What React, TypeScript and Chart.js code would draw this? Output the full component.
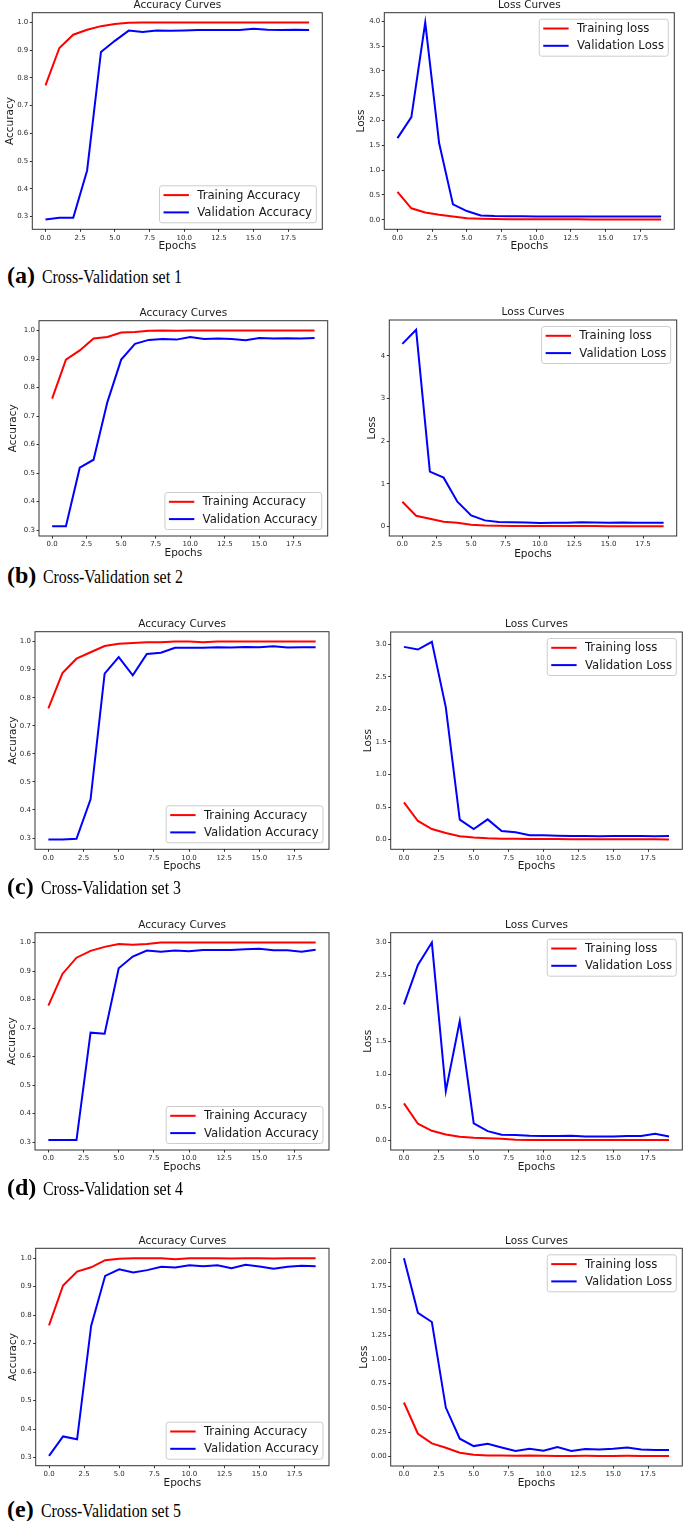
import React, { useEffect, useRef } from "react";
import { Chart, registerables } from "chart.js";

Chart.register(...registerables);

// ---------------- data ----------------
const epochs = [0, 1, 2, 3, 4, 5, 6, 7, 8, 9, 10, 11, 12, 13, 14, 15, 16, 17, 18, 19];
const xTicks = [0, 2.5, 5, 7.5, 10, 12.5, 15, 17.5];
const accTicks = [0.3, 0.4, 0.5, 0.6, 0.7, 0.8, 0.9, 1.0];
const lossTicks1 = [0, 0.5, 1, 1.5, 2, 2.5, 3, 3.5, 4];
const lossTicks2 = [0, 1, 2, 3, 4];
const lossTicks3 = [0, 0.5, 1, 1.5, 2, 2.5, 3];
const lossTicks4 = [0, 0.5, 1, 1.5, 2, 2.5, 3];
const lossTicks5 = [0, 0.25, 0.5, 0.75, 1, 1.25, 1.5, 1.75, 2];

const trainAcc1 = [0.773, 0.908, 0.956, 0.974, 0.987, 0.995, 0.999, 1.0, 1.0, 1.0, 1.0, 1.0, 1.0, 1.0, 1.0, 1.0, 1.0, 1.0, 1.0, 1.0];
const valAcc1 = [0.289, 0.295, 0.295, 0.466, 0.894, 0.934, 0.971, 0.966, 0.971, 0.97, 0.971, 0.973, 0.973, 0.973, 0.973, 0.978, 0.974, 0.973, 0.974, 0.973];
const trainLoss1 = [0.56, 0.23, 0.145, 0.1, 0.065, 0.03, 0.018, 0.012, 0.01, 0.009, 0.008, 0.008, 0.007, 0.007, 0.006, 0.006, 0.006, 0.005, 0.005, 0.005];
const valLoss1 = [1.644, 2.067, 3.973, 1.544, 0.309, 0.174, 0.087, 0.074, 0.07, 0.068, 0.067, 0.066, 0.067, 0.066, 0.066, 0.067, 0.066, 0.066, 0.067, 0.066];

const trainAcc2 = [0.761, 0.898, 0.93, 0.972, 0.977, 0.993, 0.995, 0.999, 1.0, 0.999, 1.0, 1.0, 1.0, 1.0, 1.0, 1.0, 1.0, 1.0, 1.0, 1.0];
const valAcc2 = [0.314, 0.314, 0.519, 0.547, 0.749, 0.898, 0.953, 0.967, 0.97, 0.968, 0.977, 0.97, 0.972, 0.97, 0.966, 0.974, 0.972, 0.973, 0.972, 0.974];
const trainLoss2 = [0.579, 0.25, 0.18, 0.11, 0.086, 0.039, 0.023, 0.016, 0.012, 0.01, 0.009, 0.008, 0.008, 0.007, 0.007, 0.006, 0.006, 0.005, 0.005, 0.005];
const valLoss2 = [4.28, 4.61, 1.284, 1.143, 0.579, 0.258, 0.141, 0.102, 0.1, 0.094, 0.078, 0.086, 0.086, 0.1, 0.094, 0.086, 0.094, 0.086, 0.086, 0.086];

const trainAcc3 = [0.762, 0.888, 0.939, 0.962, 0.984, 0.992, 0.995, 0.998, 0.998, 1.0, 1.0, 0.998, 1.0, 1.0, 1.0, 1.0, 1.0, 1.0, 1.0, 1.0];
const valAcc3 = [0.295, 0.295, 0.297, 0.438, 0.886, 0.945, 0.88, 0.956, 0.96, 0.978, 0.978, 0.978, 0.98, 0.979, 0.981, 0.98, 0.983, 0.979, 0.98, 0.98];
const trainLoss3 = [0.571, 0.286, 0.163, 0.102, 0.051, 0.031, 0.02, 0.015, 0.015, 0.01, 0.009, 0.008, 0.007, 0.006, 0.006, 0.005, 0.005, 0.004, 0.004, 0.003];
const valLoss3 = [2.959, 2.918, 3.036, 2.03, 0.306, 0.163, 0.311, 0.133, 0.112, 0.066, 0.066, 0.061, 0.056, 0.056, 0.051, 0.056, 0.056, 0.056, 0.051, 0.056];

const trainAcc4 = [0.779, 0.89, 0.947, 0.971, 0.985, 0.995, 0.992, 0.995, 1.0, 1.0, 1.0, 1.0, 1.0, 1.0, 1.0, 1.0, 1.0, 1.0, 1.0, 1.0];
const valAcc4 = [0.307, 0.307, 0.307, 0.684, 0.68, 0.91, 0.951, 0.972, 0.968, 0.972, 0.97, 0.974, 0.974, 0.974, 0.977, 0.978, 0.973, 0.973, 0.968, 0.975];
const trainLoss4 = [0.561, 0.253, 0.146, 0.091, 0.056, 0.04, 0.035, 0.025, 0.01, 0.005, 0.005, 0.005, 0.005, 0.005, 0.005, 0.005, 0.005, 0.005, 0.005, 0.005];
const valLoss4 = [2.06, 2.657, 2.995, 0.747, 1.808, 0.258, 0.141, 0.086, 0.081, 0.071, 0.066, 0.066, 0.071, 0.061, 0.061, 0.061, 0.066, 0.066, 0.101, 0.061];

const trainAcc5 = [0.764, 0.904, 0.953, 0.968, 0.993, 0.998, 1.0, 1.0, 1.0, 0.996, 1.0, 1.0, 1.0, 0.999, 1.0, 1.0, 0.999, 1.0, 1.0, 1.0];
const valAcc5 = [0.306, 0.374, 0.364, 0.762, 0.938, 0.961, 0.95, 0.958, 0.97, 0.967, 0.975, 0.972, 0.975, 0.965, 0.977, 0.971, 0.963, 0.97, 0.973, 0.972];
const trainLoss5 = [0.555, 0.233, 0.134, 0.089, 0.038, 0.017, 0.01, 0.01, 0.007, 0.01, 0.007, 0.005, 0.005, 0.006, 0.005, 0.005, 0.006, 0.004, 0.004, 0.003];
const valLoss5 = [2.041, 1.479, 1.384, 0.503, 0.182, 0.106, 0.13, 0.092, 0.055, 0.079, 0.058, 0.096, 0.055, 0.075, 0.072, 0.079, 0.092, 0.072, 0.065, 0.065];

const accLabels = ["Training Accuracy", "Validation Accuracy"];
const lossLabels = ["Training loss", "Validation Loss"];
const captionTags = ["(a)", "(b)", "(c)", "(d)", "(e)"];
const captionTexts = [
  "Cross-Validation set 1",
  "Cross-Validation set 2",
  "Cross-Validation set 3",
  "Cross-Validation set 4",
  "Cross-Validation set 5",
];

// ---------------- layout (positions only) ----------------
type Geo = { L: number; T: number; R: number; B: number; titleY: number; ylabelX: number; xlabelY: number };

const leftGeo: Geo[] = [
  { L: 32.3, T: 12.7, R: 322.3, B: 229.3, titleY: 5.7, ylabelX: 10, xlabelY: 246.7 },
  { L: 39, T: 320.7, R: 327.7, B: 536, titleY: 313.3, ylabelX: 13.3, xlabelY: 553.3 },
  { L: 35, T: 631.7, R: 329, B: 849.3, titleY: 624, ylabelX: 13.3, xlabelY: 866.7 },
  { L: 35, T: 932.7, R: 329, B: 1150, titleY: 925.7, ylabelX: 12.7, xlabelY: 1167.7 },
  { L: 35.7, T: 1248.3, R: 329, B: 1465.7, titleY: 1241, ylabelX: 13.3, xlabelY: 1483.3 },
];
const rightGeo: Geo[] = [
  { L: 384.3, T: 12.7, R: 674.3, B: 229.3, titleY: 5.7, ylabelX: 361.7, xlabelY: 246.7 },
  { L: 389.3, T: 320, R: 676.7, B: 536, titleY: 312.7, ylabelX: 372.3, xlabelY: 554 },
  { L: 390.7, T: 632, R: 682.3, B: 849.3, titleY: 624, ylabelX: 368.3, xlabelY: 866.7 },
  { L: 390.7, T: 932.7, R: 682.3, B: 1150, titleY: 925.7, ylabelX: 368.3, xlabelY: 1167.7 },
  { L: 390.7, T: 1248.3, R: 682.3, B: 1466, titleY: 1241, ylabelX: 364, xlabelY: 1483.3 },
];
const captionBaselines = [283, 583, 894, 1194.5, 1517];

const FONT = "'DejaVu Sans', sans-serif";
const TEXT = "#1a1a1a";

const framePlugin = {
  id: "axesFrame",
  afterDatasetsDraw(chart: any) {
    const { ctx, chartArea: a } = chart;
    ctx.save();
    ctx.strokeStyle = "#333333";
    ctx.lineWidth = 1;
    ctx.strokeRect(a.left, a.top, a.right - a.left, a.bottom - a.top);
    ctx.restore();
  },
};

const innerLegendPlugin = {
  id: "innerLegend",
  afterDraw(chart: any, _args: any, opts: any) {
    const { ctx, chartArea: a } = chart;
    const items = chart.data.datasets.map((d: any) => ({ label: d.label, color: d.borderColor }));
    ctx.save();
    ctx.font = `11.7px ${FONT}`;
    const textW = Math.max(...items.map((i: any) => ctx.measureText(i.label).width));
    const padL = 4, lineLen = 25.4, gap = 8.3, padR = 4.3;
    const w = padL + lineLen + gap + textW + padR;
    const h = 37;
    const x = a.right - 6 - w;
    const y = opts.loc === "upper" ? a.top + 6.5 : a.bottom - 6.5 - h;
    const r = 2.5;
    ctx.beginPath();
    ctx.moveTo(x + r, y);
    ctx.lineTo(x + w - r, y);
    ctx.arcTo(x + w, y, x + w, y + r, r);
    ctx.lineTo(x + w, y + h - r);
    ctx.arcTo(x + w, y + h, x + w - r, y + h, r);
    ctx.lineTo(x + r, y + h);
    ctx.arcTo(x, y + h, x, y + h - r, r);
    ctx.lineTo(x, y + r);
    ctx.arcTo(x, y, x + r, y, r);
    ctx.closePath();
    ctx.fillStyle = "rgba(255,255,255,0.85)";
    ctx.fill();
    ctx.strokeStyle = "#cccccc";
    ctx.lineWidth = 1;
    ctx.stroke();
    items.forEach((it: any, i: number) => {
      const cy = y + 9.3 + i * 17.3;
      ctx.beginPath();
      ctx.strokeStyle = it.color;
      ctx.lineWidth = 2;
      ctx.moveTo(x + padL, cy);
      ctx.lineTo(x + padL + lineLen, cy);
      ctx.stroke();
      ctx.fillStyle = TEXT;
      ctx.textBaseline = "middle";
      ctx.textAlign = "left";
      ctx.fillText(it.label, x + padL + lineLen + gap, cy + 0.5);
    });
    ctx.restore();
  },
};

type PanelProps = {
  geo: Geo;
  title: string;
  yTitle: string;
  labels: string[];
  train: number[];
  val: number[];
  yTicks: number[];
  decimals: number;
  loc: "upper" | "lower";
};

function Panel({ geo, title, yTitle, labels, train, val, yTicks, decimals, loc }: PanelProps) {
  const ref = useRef<HTMLCanvasElement>(null);
  const cLeft = Math.floor(geo.ylabelX - 7);
  const cTop = Math.max(0, Math.floor(geo.titleY - 6));
  const cRight = Math.min(685, Math.ceil(geo.R + 3));
  const cBottom = Math.ceil(geo.xlabelY + 8);
  const W = cRight - cLeft;
  const H = cBottom - cTop;

  useEffect(() => {
    if (!ref.current) return;
    const ML = geo.L - cLeft;
    const MB = cBottom - geo.B;
    const lhT = 10.5;
    const padTop = geo.titleY - cTop - lhT / 2;
    const titlePadBottom = geo.T - cTop - padTop - lhT;
    const lhA = 10.5 * 1.2;
    const ylabelPad = geo.ylabelX - cLeft - lhA / 2;
    const xlabelPad = cBottom - geo.xlabelY - lhA / 2;
    const all = [...train, ...val];
    const lo = Math.min(...all);
    const hi = Math.max(...all);
    const m = (hi - lo) * 0.05;
    const tickFont = { family: FONT, size: 7 };
    const gridOpts = { display: true, drawOnChartArea: false, drawTicks: true, tickLength: 2.5, color: "#333333", lineWidth: 1 };

    const chart = new Chart(ref.current, {
      type: "line",
      data: {
        datasets: [
          { label: labels[0], data: epochs.map((e, i) => ({ x: e, y: train[i] })), borderColor: "#ff0000", backgroundColor: "#ff0000", borderWidth: 2, pointRadius: 0, fill: false, tension: 0 },
          { label: labels[1], data: epochs.map((e, i) => ({ x: e, y: val[i] })), borderColor: "#0000ff", backgroundColor: "#0000ff", borderWidth: 2, pointRadius: 0, fill: false, tension: 0 },
        ],
      },
      options: {
        animation: false,
        responsive: false,
        devicePixelRatio: 1,
        events: [],
        layout: { padding: { top: padTop, right: cRight - geo.R, left: 0, bottom: 0 } },
        plugins: {
          legend: { display: false },
          tooltip: { enabled: false },
          title: {
            display: true,
            text: title,
            fullSize: false,
            color: TEXT,
            font: { family: FONT, size: 10.5, weight: "normal", lineHeight: 1 },
            padding: { top: 0, bottom: titlePadBottom },
          },
          innerLegend: { loc },
        } as any,
        scales: {
          x: {
            type: "linear",
            min: -0.95,
            max: 19.95,
            afterBuildTicks: (s: any) => {
              s.ticks = xTicks.map((v) => ({ value: v }));
            },
            afterFit: (s: any) => {
              s.height = MB;
            },
            ticks: { font: tickFont, color: "#2a2a2a", padding: 1.8, autoSkip: false, maxRotation: 0, callback: (v: any) => Number(v).toFixed(1) },
            grid: gridOpts,
            border: { display: false },
            title: { display: true, text: "Epochs", color: TEXT, font: { family: FONT, size: 10.5, lineHeight: 1.2 }, padding: { top: 0, bottom: xlabelPad } },
          },
          y: {
            type: "linear",
            min: lo - m,
            max: hi + m,
            afterBuildTicks: (s: any) => {
              s.ticks = yTicks.map((v) => ({ value: v }));
            },
            afterFit: (s: any) => {
              s.width = ML;
            },
            ticks: { font: tickFont, color: "#2a2a2a", padding: 1.5, autoSkip: false, callback: (v: any) => Number(v).toFixed(decimals) },
            grid: gridOpts,
            border: { display: false },
            title: { display: true, text: yTitle, color: TEXT, font: { family: FONT, size: 10.5, lineHeight: 1.2 }, padding: { top: ylabelPad, bottom: 0 } },
          },
        },
      } as any,
      plugins: [framePlugin, innerLegendPlugin],
    });
    return () => chart.destroy();
  }, []);

  return (
    <canvas
      ref={ref}
      width={W}
      height={H}
      style={{ position: "absolute", left: cLeft, top: cTop, width: W, height: H }}
    />
  );
}

function Caption({ tag, text, baseline }: { tag: string; text: string; baseline: number }) {
  return (
    <div
      style={{
        position: "absolute",
        left: 7,
        top: baseline - 20,
        fontFamily: "'Liberation Serif', 'Times New Roman', serif",
        fontSize: 24,
        lineHeight: "24px",
        whiteSpace: "nowrap",
        color: "#000",
      }}
    >
      <span style={{ fontWeight: "bold" }}>{tag}</span>
      <span
        style={{
          display: "inline-block",
          fontSize: 18,
          marginLeft: 7,
          transform: "scaleX(0.88)",
          transformOrigin: "left center",
        }}
      >
        {text}
      </span>
    </div>
  );
}

export default function App() {
  const accTrain = [trainAcc1, trainAcc2, trainAcc3, trainAcc4, trainAcc5];
  const accVal = [valAcc1, valAcc2, valAcc3, valAcc4, valAcc5];
  const lossTrain = [trainLoss1, trainLoss2, trainLoss3, trainLoss4, trainLoss5];
  const lossVal = [valLoss1, valLoss2, valLoss3, valLoss4, valLoss5];
  const lossTicks = [lossTicks1, lossTicks2, lossTicks3, lossTicks4, lossTicks5];
  const lossDecimals = [1, 0, 1, 1, 2];

  return (
    <div
      style={{
        position: "absolute",
        left: 0,
        top: 0,
        width: 685,
        height: 1521,
        overflow: "hidden",
        background: "#ffffff",
      }}
    >
      {[0, 1, 2, 3, 4].map((i) => (
        <React.Fragment key={i}>
          <Panel
            geo={leftGeo[i]}
            title="Accuracy Curves"
            yTitle="Accuracy"
            labels={accLabels}
            train={accTrain[i]}
            val={accVal[i]}
            yTicks={accTicks}
            decimals={1}
            loc="lower"
          />
          <Panel
            geo={rightGeo[i]}
            title="Loss Curves"
            yTitle="Loss"
            labels={lossLabels}
            train={lossTrain[i]}
            val={lossVal[i]}
            yTicks={lossTicks[i]}
            decimals={lossDecimals[i]}
            loc="upper"
          />
          <Caption tag={captionTags[i]} text={captionTexts[i]} baseline={captionBaselines[i]} />
        </React.Fragment>
      ))}
    </div>
  );
}
